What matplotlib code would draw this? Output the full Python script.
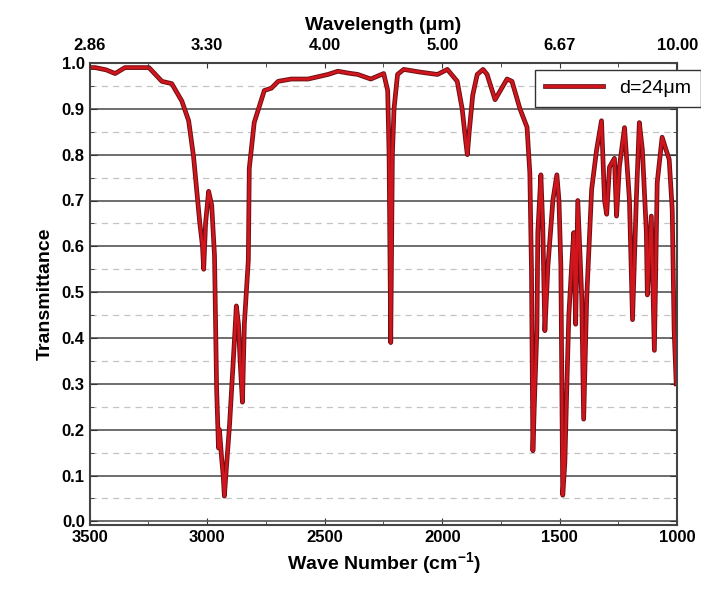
import numpy as np
import matplotlib
matplotlib.use("Agg")
import matplotlib.pyplot as plt
import matplotlib.patheffects as pe
from matplotlib.ticker import MultipleLocator

plt.rcParams['font.family'] = ['Liberation Sans', 'DejaVu Sans']
plt.rcParams['font.weight'] = 'bold'
plt.rcParams['mathtext.fontset'] = 'custom'
plt.rcParams['mathtext.rm'] = 'Liberation Sans:bold'
plt.rcParams['mathtext.bf'] = 'Liberation Sans:bold'
plt.rcParams['mathtext.it'] = 'Liberation Sans:bold'

# spectrum (wave number cm-1, transmittance)
wavenumber = [3500, 3477, 3430, 3392, 3350, 3300, 3248, 3193, 3151, 3108,
              3079, 3058, 3045, 3032, 3020, 3015, 3007, 2994, 2981, 2969,
              2960, 2952, 2948, 2939, 2932, 2927, 2918, 2905, 2888, 2876,
              2867, 2860, 2850, 2842, 2825, 2821, 2800, 2757, 2727, 2698,
              2643, 2571, 2486, 2444, 2400, 2359, 2304, 2249, 2232, 2226,
              2219, 2212, 2205, 2190, 2164, 2092, 2020, 1978, 1936, 1915,
              1900, 1893, 1885, 1870, 1851, 1826, 1809, 1775, 1724, 1703,
              1669, 1639, 1627, 1620, 1614, 1605, 1597, 1593, 1580, 1572,
              1563, 1550, 1538, 1529, 1512, 1503, 1495, 1491, 1487, 1478,
              1470, 1461, 1449, 1440, 1432, 1423, 1406, 1398, 1385, 1364,
              1343, 1322, 1309, 1300, 1288, 1267, 1258, 1246, 1224, 1203,
              1190, 1174, 1161, 1148, 1131, 1127, 1110, 1097, 1085, 1064,
              1047, 1034, 1021, 1013, 1004]
transmittance = [0.99, 0.99, 0.985, 0.977, 0.99, 0.99, 0.99, 0.96, 0.955, 0.917,
                 0.874, 0.795, 0.724, 0.653, 0.60, 0.55, 0.65, 0.72, 0.69, 0.58,
                 0.29, 0.16, 0.20, 0.14, 0.10, 0.055, 0.12, 0.21, 0.36, 0.47,
                 0.43, 0.35, 0.26, 0.43, 0.57, 0.77, 0.87, 0.94, 0.945, 0.96,
                 0.965, 0.965, 0.975, 0.982, 0.978, 0.975, 0.965, 0.977, 0.94, 0.80,
                 0.39, 0.80, 0.90, 0.975, 0.986, 0.98, 0.975, 0.986, 0.96, 0.90,
                 0.83, 0.80, 0.85, 0.93, 0.975, 0.986, 0.975, 0.92, 0.965, 0.96,
                 0.90, 0.86, 0.76, 0.55, 0.154, 0.30, 0.416, 0.63, 0.756, 0.644,
                 0.416, 0.558, 0.638, 0.70, 0.756, 0.70, 0.558, 0.31, 0.057, 0.128,
                 0.287, 0.45, 0.558, 0.63, 0.43, 0.70, 0.487, 0.223, 0.487, 0.724,
                 0.81, 0.874, 0.70, 0.67, 0.773, 0.792, 0.666, 0.773, 0.859, 0.70,
                 0.44, 0.70, 0.87, 0.81, 0.63, 0.494, 0.666, 0.373, 0.739, 0.838,
                 0.81, 0.79, 0.68, 0.42, 0.30]

top_ticks = [3500, 3000, 2500, 2000, 1500, 1000]
top_labels = ['2.86', '3.30', '4.00', '5.00', '6.67', '10.00']

fig = plt.figure(figsize=(7.01, 6.0), dpi=100)
ax = fig.add_axes([0.128, 0.125, 0.838, 0.77])

ax.plot(wavenumber, transmittance, color='#d0161c', lw=2.0, label='d=24\u03bcm',
        path_effects=[pe.Stroke(linewidth=3.4, foreground='#6e0f14'), pe.Normal()])

ax.set_xlim(3500, 1000)
ax.set_ylim(-0.008, 1.0)

ax.xaxis.set_major_locator(MultipleLocator(500))
ax.xaxis.set_minor_locator(MultipleLocator(250))
ax.yaxis.set_major_locator(MultipleLocator(0.1))
ax.yaxis.set_minor_locator(MultipleLocator(0.05))
ax.yaxis.set_major_formatter(plt.FormatStrFormatter('%.1f'))
ax.tick_params(which='both', direction='in', right=True, labelsize=12, color='#333')
ax.tick_params(which='major', length=5)
ax.tick_params(which='minor', length=3)

ax.grid(which='major', axis='y', color='#555555', lw=1.2)
ax.grid(which='minor', axis='y', color='#c4c4c4', lw=0.9, ls=(0, (5, 4)))
ax.set_axisbelow(True)

for s in ax.spines.values():
    s.set_color('#444444')
    s.set_linewidth(1.5)

ax.set_xlabel('Wave Number (cm$^{-1}$)', fontsize=14, fontweight='bold', labelpad=4)
ax.set_ylabel('Transmittance', fontsize=14, fontweight='bold', labelpad=6)

ax2 = ax.twiny()
ax2.set_xlim(ax.get_xlim())
ax2.set_xticks(top_ticks)
ax2.set_xticklabels(top_labels)
ax2.xaxis.set_minor_locator(MultipleLocator(250))
ax2.tick_params(which='both', direction='in', labelsize=12, color='#333', pad=7)
ax2.tick_params(which='minor', length=3)
ax2.set_xlabel('Wavelength (\u03bcm)', fontsize=14, fontweight='bold', labelpad=6)
for s in ax2.spines.values():
    s.set_visible(False)

leg = ax.legend(loc='upper right', bbox_to_anchor=(1.04, 0.985), borderaxespad=0,
                fancybox=False, handlelength=3.0, borderpad=0.5,
                prop={'weight': 'normal', 'size': 14})
leg.get_frame().set_edgecolor('#333333')
leg.get_frame().set_linewidth(1.0)
leg.get_frame().set_alpha(1)

fig.savefig('out.png', dpi=100)
